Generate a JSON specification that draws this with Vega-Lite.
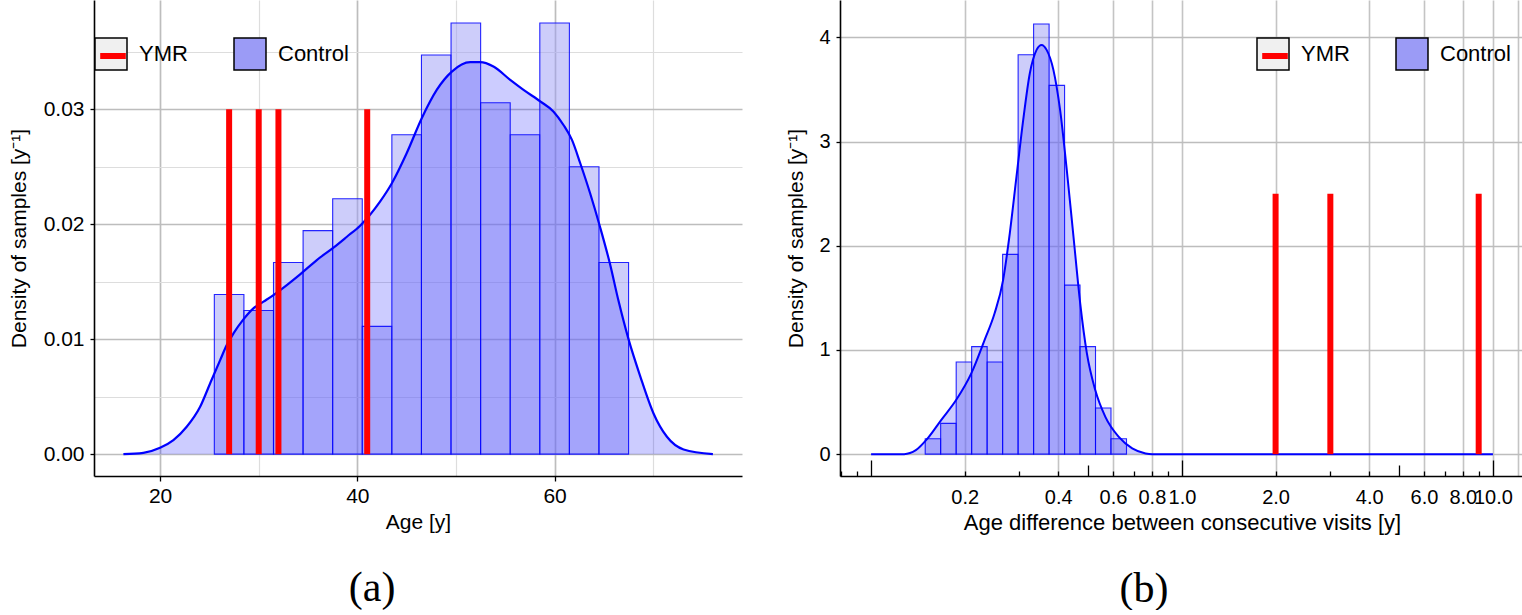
{
  "$schema": "https://vega.github.io/schema/vega-lite/v6.json",
  "background": "white",
  "padding": {"left": 8, "top": 0, "right": 0, "bottom": 0},
  "spacing": 43,
  "datasets": {
    "ageHist": [
      {"bin_start": 25.5, "bin_end": 28.5, "density": 0.01389, "series": "Control"},
      {"bin_start": 28.5, "bin_end": 31.5, "density": 0.0125, "series": "Control"},
      {"bin_start": 31.5, "bin_end": 34.5, "density": 0.01667, "series": "Control"},
      {"bin_start": 34.5, "bin_end": 37.5, "density": 0.01944, "series": "Control"},
      {"bin_start": 37.5, "bin_end": 40.5, "density": 0.02222, "series": "Control"},
      {"bin_start": 40.5, "bin_end": 43.5, "density": 0.01111, "series": "Control"},
      {"bin_start": 43.5, "bin_end": 46.5, "density": 0.02778, "series": "Control"},
      {"bin_start": 46.5, "bin_end": 49.5, "density": 0.03472, "series": "Control"},
      {"bin_start": 49.5, "bin_end": 52.5, "density": 0.0375, "series": "Control"},
      {"bin_start": 52.5, "bin_end": 55.5, "density": 0.03056, "series": "Control"},
      {"bin_start": 55.5, "bin_end": 58.5, "density": 0.02778, "series": "Control"},
      {"bin_start": 58.5, "bin_end": 61.5, "density": 0.0375, "series": "Control"},
      {"bin_start": 61.5, "bin_end": 64.5, "density": 0.025, "series": "Control"},
      {"bin_start": 64.5, "bin_end": 67.5, "density": 0.01667, "series": "Control"}
    ],
    "ageDens": [
      {"age": 16.28, "density": 0}, {"age": 18.3, "density": 0.00011}, {"age": 20, "density": 0.00055},
      {"age": 21.35, "density": 0.00122}, {"age": 22.7, "density": 0.00238}, {"age": 24.06, "density": 0.00412},
      {"age": 25.07, "density": 0.00615}, {"age": 26.09, "density": 0.00818}, {"age": 26.76, "density": 0.00949},
      {"age": 27.44, "density": 0.0105}, {"age": 28.45, "density": 0.01172}, {"age": 29.46, "density": 0.01268},
      {"age": 30.48, "density": 0.01326}, {"age": 31.49, "density": 0.01384}, {"age": 32.85, "density": 0.01471},
      {"age": 34.2, "density": 0.01564}, {"age": 35.89, "density": 0.01688}, {"age": 37.58, "density": 0.01796},
      {"age": 38.94, "density": 0.01891}, {"age": 40.28, "density": 0.01987}, {"age": 42.3, "density": 0.02196},
      {"age": 43.5, "density": 0.02356}, {"age": 45.0, "density": 0.02617}, {"age": 46.53, "density": 0.02922},
      {"age": 48.05, "density": 0.03168}, {"age": 49.58, "density": 0.03327}, {"age": 51.44, "density": 0.03409},
      {"age": 52.45, "density": 0.03409}, {"age": 53.8, "density": 0.03371}, {"age": 55.5, "density": 0.03255},
      {"age": 56.85, "density": 0.03168}, {"age": 58.58, "density": 0.03066}, {"age": 59.9, "density": 0.02979},
      {"age": 60.9, "density": 0.02863}, {"age": 61.76, "density": 0.02733}, {"age": 62.6, "density": 0.0253},
      {"age": 63.6, "density": 0.02269}, {"age": 64.6, "density": 0.01978}, {"age": 65.6, "density": 0.0166},
      {"age": 66.46, "density": 0.0134}, {"age": 67.5, "density": 0.00998}, {"age": 68.7, "density": 0.00673},
      {"age": 70.03, "density": 0.00354}, {"age": 71.39, "density": 0.00151}, {"age": 73.08, "density": 0.00041},
      {"age": 76.05, "density": 0}
    ],
    "ageYMR": [
      {"age": 27, "series": "ymr"}, {"age": 30, "series": "ymr"}, {"age": 32, "series": "ymr"}, {"age": 41, "series": "ymr"}
    ],
    "diffHist": [
      {"bin_start": 0.1493, "bin_end": 0.1674, "density": 0.1475, "series": "Control"},
      {"bin_start": 0.1674, "bin_end": 0.1878, "density": 0.295, "series": "Control"},
      {"bin_start": 0.1878, "bin_end": 0.2106, "density": 0.885, "series": "Control"},
      {"bin_start": 0.2106, "bin_end": 0.2362, "density": 1.0325, "series": "Control"},
      {"bin_start": 0.2362, "bin_end": 0.2649, "density": 0.885, "series": "Control"},
      {"bin_start": 0.2649, "bin_end": 0.2971, "density": 1.9175, "series": "Control"},
      {"bin_start": 0.2971, "bin_end": 0.3332, "density": 3.835, "series": "Control"},
      {"bin_start": 0.3332, "bin_end": 0.3737, "density": 4.13, "series": "Control"},
      {"bin_start": 0.3737, "bin_end": 0.4191, "density": 3.54, "series": "Control"},
      {"bin_start": 0.4191, "bin_end": 0.4699, "density": 1.6225, "series": "Control"},
      {"bin_start": 0.4699, "bin_end": 0.527, "density": 1.0325, "series": "Control"},
      {"bin_start": 0.527, "bin_end": 0.591, "density": 0.4425, "series": "Control"},
      {"bin_start": 0.591, "bin_end": 0.6629, "density": 0.1475, "series": "Control"}
    ],
    "diffDens": [
      {"diff": 0.1, "density": 0}, {"diff": 0.1277, "density": 0}, {"diff": 0.1393, "density": 0.038},
      {"diff": 0.152, "density": 0.151}, {"diff": 0.168, "density": 0.327}, {"diff": 0.1877, "density": 0.519},
      {"diff": 0.21, "density": 0.775}, {"diff": 0.2317, "density": 1.095}, {"diff": 0.2496, "density": 1.352},
      {"diff": 0.2658, "density": 1.671}, {"diff": 0.2793, "density": 2.12}, {"diff": 0.2935, "density": 2.664},
      {"diff": 0.3085, "density": 3.208}, {"diff": 0.324, "density": 3.657}, {"diff": 0.3406, "density": 3.881},
      {"diff": 0.3535, "density": 3.929}, {"diff": 0.3669, "density": 3.881}, {"diff": 0.3858, "density": 3.689},
      {"diff": 0.4054, "density": 3.304}, {"diff": 0.426, "density": 2.728}, {"diff": 0.4477, "density": 2.087},
      {"diff": 0.4705, "density": 1.448}, {"diff": 0.4944, "density": 0.967}, {"diff": 0.526, "density": 0.615},
      {"diff": 0.5668, "density": 0.358}, {"diff": 0.6261, "density": 0.166}, {"diff": 0.6916, "density": 0.055},
      {"diff": 0.7634, "density": 0.007}, {"diff": 0.8027, "density": 0}, {"diff": 10, "density": 0}
    ],
    "diffYMR": [
      {"diff": 2.0, "series": "ymr"}, {"diff": 3.0, "series": "ymr"}, {"diff": 9.0, "series": "ymr"}
    ]
  },
  "resolve": {
    "scale": {"fill": "independent", "stroke": "independent"},
    "legend": {"fill": "independent", "stroke": "independent"}
  },
  "hconcat": [
    {
      "width": 648,
      "height": 476,
      "title": {"text": "(a)", "orient": "bottom", "frame": "bounds", "anchor": "middle", "dx": -3},
      "layer": [
        {
          "data": {"name": "ageHist"},
          "mark": {"type": "rect", "fillOpacity": 0.5, "stroke": "#0000ff", "strokeWidth": 1.1, "strokeOpacity": 0.85},
          "encoding": {
            "x": {
              "field": "bin_start", "type": "quantitative",
              "scale": {"domain": [13.3, 79.0], "nice": false, "zero": false},
              "axis": {
                "title": "Age [y]",
                "titleFontSize": 21,
                "values": [20, 30, 40, 50, 60, 70],
                "format": "d",
                "labelExpr": "datum.value % 20 == 0 ? datum.label : ''",
                "labelFontSize": 21,
                "labelPadding": 4,
                "tickSize": 5,
                "tickOpacity": {"condition": {"test": "datum.value % 20 != 0", "value": 0}, "value": 1},
                "gridColor": {"condition": {"test": "datum.value % 20 != 0", "value": "#dddddd"}, "value": "#bdbdbd"},
                "gridWidth": {"condition": {"test": "datum.value % 20 != 0", "value": 1.2}, "value": 1.7},
                "titlePadding": 5
              }
            },
            "x2": {"field": "bin_end"},
            "y": {
              "field": "density", "type": "quantitative",
              "scale": {"domain": [-0.0019, 0.0395], "nice": false, "zero": false},
              "axis": {
                "title": "Density of samples [y⁻¹]",
                "values": [0, 0.005, 0.01, 0.015, 0.02, 0.025, 0.03, 0.035],
                "format": ".2f",
                "labelExpr": "indexof([0, 0.01, 0.02, 0.03], datum.value) >= 0 ? datum.label : ''",
                "labelFontSize": 21,
                "labelPadding": 6,
                "tickSize": 4,
                "tickOpacity": {"condition": {"test": "indexof([0, 0.01, 0.02, 0.03], datum.value) < 0", "value": 0}, "value": 1},
                "gridColor": {"condition": {"test": "indexof([0, 0.01, 0.02, 0.03], datum.value) < 0", "value": "#dddddd"}, "value": "#bdbdbd"},
                "gridWidth": {"condition": {"test": "indexof([0, 0.01, 0.02, 0.03], datum.value) < 0", "value": 1.2}, "value": 1.7},
                "titlePadding": 14
              }
            },
            "y2": {"datum": 0},
            "fill": {
              "field": "series", "type": "nominal",
              "scale": {"domain": ["YMR", "Control"], "range": ["#f0f0f0", "#9b9bf6"]},
              "legend": {
                "orient": "none", "legendX": 0, "legendY": 37, "direction": "horizontal", "title": null,
                "symbolType": "square", "symbolSize": 1024, "symbolStrokeColor": "black", "symbolStrokeWidth": 1.5,
                "labelFontSize": 22, "labelOffset": 11, "columnPadding": 43, "padding": 0,
                "encode": {"symbols": {"update": {"fillOpacity": {"value": 1}, "opacity": {"value": 1}, "stroke": {"value": "black"}, "strokeOpacity": {"value": 1}, "strokeWidth": {"value": 1.5}}}}
              }
            }
          }
        },
        {
          "data": {"name": "ageDens"},
          "mark": {"type": "area", "color": "#0000ff", "fillOpacity": 0.2, "interpolate": "monotone"},
          "encoding": {
            "x": {"field": "age", "type": "quantitative"},
            "y": {"field": "density", "type": "quantitative"}
          }
        },
        {
          "data": {"name": "ageDens"},
          "mark": {"type": "line", "color": "#0000ff", "strokeWidth": 2.2, "interpolate": "monotone"},
          "encoding": {
            "x": {"field": "age", "type": "quantitative"},
            "y": {"field": "density", "type": "quantitative"}
          }
        },
        {
          "data": {"name": "ageYMR"},
          "mark": {"type": "rule", "strokeWidth": 6},
          "encoding": {
            "x": {"field": "age", "type": "quantitative"},
            "y": {"datum": 0},
            "y2": {"datum": 0.03},
            "stroke": {
              "field": "series", "type": "nominal",
              "scale": {"domain": ["ymr", "control"], "range": ["#ff0000", "transparent"]},
              "legend": {
                "orient": "none", "legendX": 0, "legendY": 37, "direction": "horizontal", "title": null,
                "symbolType": "M-0.8,0H0.8", "symbolSize": 1024, "symbolStrokeWidth": 6,
                "labelFontSize": 22, "labelOffset": 11, "columnPadding": 43, "padding": 0,
                "labelExpr": "''"
              }
            }
          }
        }
      ]
    },
    {
      "width": 684,
      "height": 476,
      "title": {"text": "(b)", "orient": "bottom", "frame": "bounds", "anchor": "middle", "dx": -11},
      "layer": [
        {
          "data": {"name": "diffHist"},
          "mark": {"type": "rect", "fillOpacity": 0.5, "stroke": "#0000ff", "strokeWidth": 1.1, "strokeOpacity": 0.85},
          "encoding": {
            "x": {
              "field": "bin_start", "type": "quantitative",
              "scale": {"type": "log", "domain": [0.07943, 12.589], "nice": false, "zero": false},
              "axis": {
                "title": "Age difference between consecutive visits [y]",
                "titleFontSize": 22,
                "values": [0.08, 0.09, 0.1, 0.2, 0.3, 0.4, 0.5, 0.6, 0.7, 0.8, 0.9, 1, 2, 3, 4, 5, 6, 7, 8, 9, 10, 12],
                "format": ".1f",
                "labelExpr": "indexof([0.2, 0.4, 0.6, 0.8, 1, 2, 4, 6, 8, 10], datum.value) >= 0 ? datum.label : ''",
                "labelOverlap": false,
                "labelFontSize": 20,
                "tickSize": {"condition": [{"test": "indexof([0.1, 1, 10], datum.value) >= 0", "value": -16}, {"test": "indexof([0.5, 5], datum.value) >= 0", "value": -11}], "value": -5},
                "labelPadding": {"condition": {"test": "indexof([0.1, 1, 10], datum.value) >= 0", "value": 27}, "value": 16},
                "tickOpacity": {"condition": {"test": "datum.value == 12", "value": 0}, "value": 1},
                "gridOpacity": {"condition": {"test": "indexof([0.2, 0.4, 0.6, 0.8, 1, 2, 4, 6, 8, 10, 12], datum.value) >= 0", "value": 1}, "value": 0},
                "gridColor": "#c4c4c4",
                "gridWidth": 1.6,
                "titlePadding": 5
              }
            },
            "x2": {"field": "bin_end"},
            "y": {
              "field": "density", "type": "quantitative",
              "scale": {"domain": [-0.21, 4.36], "nice": false, "zero": false},
              "axis": {
                "title": "Density of samples [y⁻¹]",
                "values": [0, 0.5, 1, 1.5, 2, 2.5, 3, 3.5, 4],
                "format": "d",
                "labelExpr": "datum.value % 1 == 0 ? datum.label : ''",
                "labelFontSize": 20,
                "labelPadding": 6,
                "tickSize": 4,
                "tickOpacity": {"condition": {"test": "datum.value % 1 != 0", "value": 0}, "value": 1},
                "gridColor": {"condition": {"test": "datum.value % 1 != 0", "value": "#dddddd"}, "value": "#bdbdbd"},
                "gridWidth": {"condition": {"test": "datum.value % 1 != 0", "value": 1.2}, "value": 1.7},
                "titlePadding": 12
              }
            },
            "y2": {"datum": 0},
            "fill": {
              "field": "series", "type": "nominal",
              "scale": {"domain": ["YMR", "Control"], "range": ["#f0f0f0", "#9b9bf6"]},
              "legend": {
                "orient": "none", "legendX": 416, "legendY": 37, "direction": "horizontal", "title": null,
                "symbolType": "square", "symbolSize": 1024, "symbolStrokeColor": "black", "symbolStrokeWidth": 1.5,
                "labelFontSize": 22, "labelOffset": 11, "columnPadding": 43, "padding": 0,
                "encode": {"symbols": {"update": {"fillOpacity": {"value": 1}, "opacity": {"value": 1}, "stroke": {"value": "black"}, "strokeOpacity": {"value": 1}, "strokeWidth": {"value": 1.5}}}}
              }
            }
          }
        },
        {
          "data": {"name": "diffDens"},
          "mark": {"type": "area", "color": "#0000ff", "fillOpacity": 0.2, "interpolate": "monotone"},
          "encoding": {
            "x": {"field": "diff", "type": "quantitative"},
            "y": {"field": "density", "type": "quantitative"}
          }
        },
        {
          "data": {"name": "diffDens"},
          "mark": {"type": "line", "color": "#0000ff", "strokeWidth": 2, "interpolate": "monotone"},
          "encoding": {
            "x": {"field": "diff", "type": "quantitative"},
            "y": {"field": "density", "type": "quantitative"}
          }
        },
        {
          "data": {"name": "diffYMR"},
          "mark": {"type": "rule", "strokeWidth": 6},
          "encoding": {
            "x": {"field": "diff", "type": "quantitative"},
            "y": {"datum": 0},
            "y2": {"datum": 2.5},
            "stroke": {
              "field": "series", "type": "nominal",
              "scale": {"domain": ["ymr", "control"], "range": ["#ff0000", "transparent"]},
              "legend": {
                "orient": "none", "legendX": 416, "legendY": 37, "direction": "horizontal", "title": null,
                "symbolType": "M-0.8,0H0.8", "symbolSize": 1024, "symbolStrokeWidth": 6,
                "labelFontSize": 22, "labelOffset": 11, "columnPadding": 43, "padding": 0,
                "labelExpr": "''"
              }
            }
          }
        }
      ]
    }
  ],
  "config": {
    "view": {"stroke": null},
    "font": "Liberation Sans",
    "axis": {
      "labelFont": "Liberation Sans", "titleFont": "Liberation Sans", "labelColor": "black", "titleColor": "black",
      "titleFontSize": 21, "titleFontWeight": "normal", "domainColor": "black", "domainWidth": 1.6,
      "tickColor": "black", "tickWidth": 1.3, "labelFlush": false, "labelOverlap": false, "grid": true
    },
    "legend": {"labelFont": "Liberation Sans", "labelColor": "black"},
    "title": {"font": "Liberation Serif", "fontSize": 42, "fontWeight": "normal", "color": "black", "offset": 36}
  }
}
